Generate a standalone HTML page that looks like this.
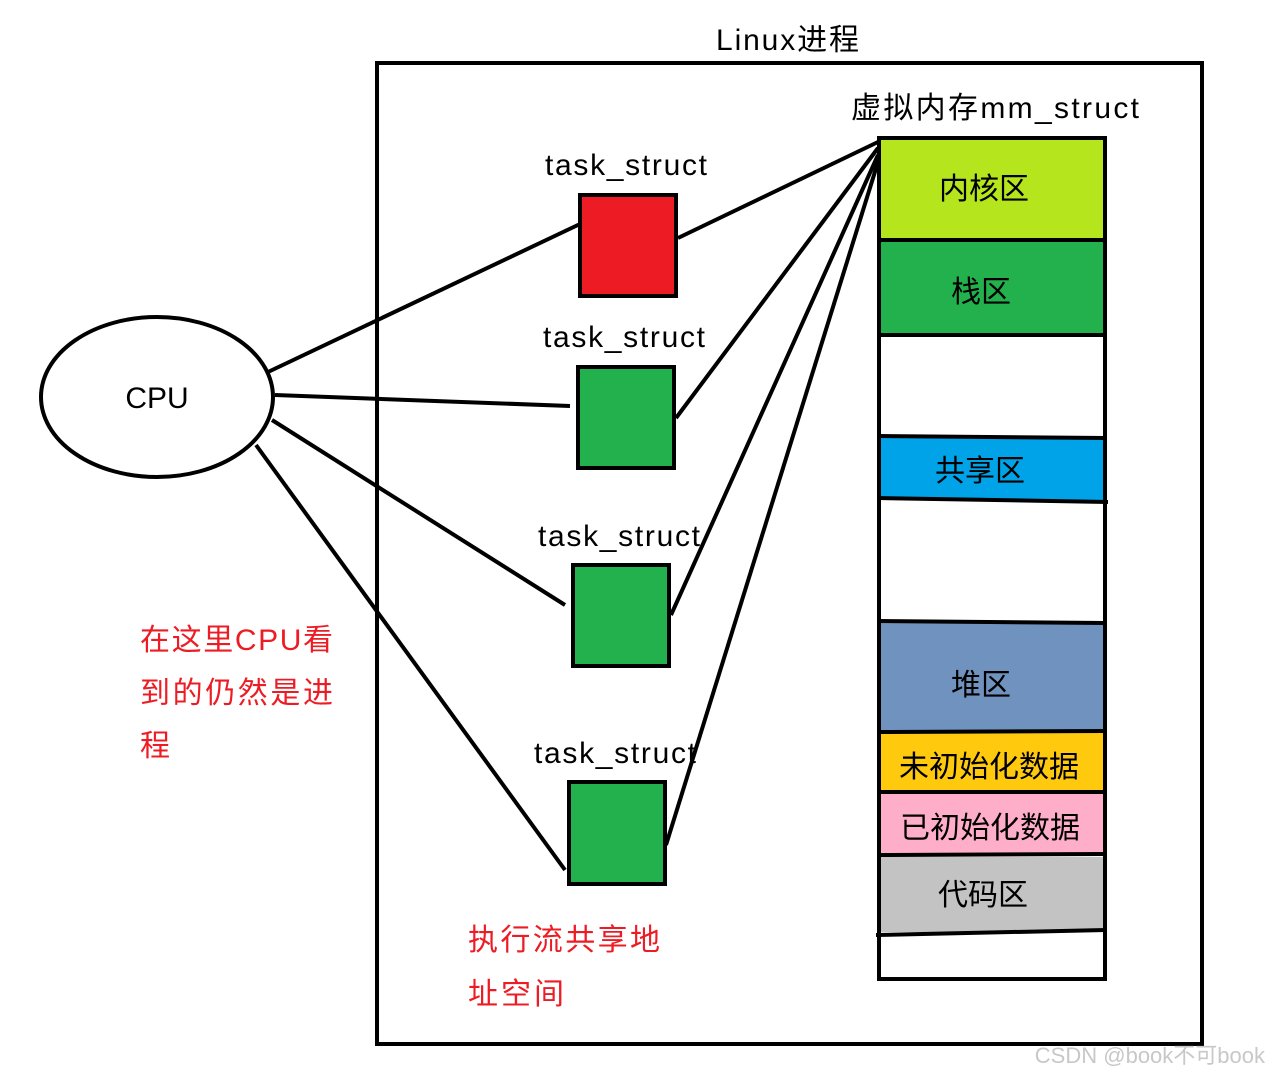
<!DOCTYPE html>
<html><head><meta charset="utf-8"><style>
body{margin:0;background:#fff}
svg text{font-family:"Liberation Sans","Noto Sans CJK SC",sans-serif}
</style></head><body>
<svg width="1269" height="1076" viewBox="0 0 1269 1076" xmlns="http://www.w3.org/2000/svg">
<rect x="0" y="0" width="1269" height="1076" fill="#fff"/>
<text x="716" y="50" font-size="30" textLength="143">Linux进程</text>
<rect x="377" y="63" width="825" height="981" fill="none" stroke="#000" stroke-width="4"/>
<text x="851" y="118" font-size="30" textLength="288">虚拟内存mm_struct</text>
<rect x="880" y="140" width="225" height="100" fill="#b5e51d"/>
<rect x="880" y="241" width="225" height="93" fill="#22b14c"/>
<rect x="880" y="438" width="225" height="62" fill="#00a2e8"/>
<rect x="880" y="623" width="225" height="108" fill="#7092be"/>
<rect x="880" y="733" width="225" height="58" fill="#ffc90e"/>
<rect x="880" y="793" width="225" height="62" fill="#ffaec9"/>
<rect x="880" y="857" width="225" height="75" fill="#c3c3c3"/>
<g stroke="#000" stroke-width="4">
<line x1="878" y1="240" x2="1106" y2="240"/>
<line x1="878" y1="335" x2="1106" y2="335"/>
<line x1="878" y1="436" x2="1106" y2="438"/>
<line x1="878" y1="498" x2="1108" y2="502"/>
<line x1="878" y1="621" x2="1106" y2="623"/>
<line x1="878" y1="732" x2="1106" y2="731"/>
<line x1="878" y1="792" x2="1106" y2="792"/>
<line x1="878" y1="855" x2="1106" y2="854"/>
<line x1="876" y1="935" x2="1106" y2="930"/>
</g>
<rect x="879" y="138" width="226" height="841" fill="none" stroke="#000" stroke-width="4"/>
<g font-size="30" text-anchor="middle">
<text x="984" y="199">内核区</text>
<text x="981" y="302">栈区</text>
<text x="980" y="481">共享区</text>
<text x="981" y="695">堆区</text>
<text x="989" y="777">未初始化数据</text>
<text x="990" y="838">已初始化数据</text>
<text x="983" y="905">代码区</text>
</g>
<g font-size="30">
<text x="545" y="175" textLength="162">task_struct</text>
<text x="543" y="347" textLength="162">task_struct</text>
<text x="538" y="546" textLength="162">task_struct</text>
<text x="534" y="763" textLength="162">task_struct</text>
</g>
<rect x="580" y="195" width="96" height="101" fill="#ed1c24" stroke="#000" stroke-width="4"/>
<rect x="578" y="367" width="96" height="101" fill="#22b14c" stroke="#000" stroke-width="4"/>
<rect x="573" y="565" width="96" height="101" fill="#22b14c" stroke="#000" stroke-width="4"/>
<rect x="569" y="782" width="96" height="102" fill="#22b14c" stroke="#000" stroke-width="4"/>
<g stroke="#000" stroke-width="4" fill="none">
<line x1="678" y1="238" x2="878" y2="142"/>
<line x1="676" y1="418" x2="878" y2="148"/>
<line x1="671" y1="615" x2="878" y2="155"/>
<line x1="666" y1="845" x2="878" y2="162"/>
<line x1="268" y1="372" x2="580" y2="224"/>
<line x1="275" y1="395" x2="570" y2="406"/>
<line x1="272" y1="420" x2="565" y2="605"/>
<line x1="256" y1="445" x2="565" y2="870"/>
</g>
<ellipse cx="157" cy="397" rx="116" ry="80" fill="#fff" stroke="#000" stroke-width="4"/>
<text x="157" y="408" font-size="30" text-anchor="middle">CPU</text>
<g font-size="30" fill="#ed1c24">
<text x="140" y="650" textLength="193">在这里CPU看</text>
<text x="140" y="703" textLength="193">到的仍然是进</text>
<text x="140" y="756">程</text>
<text x="468" y="950" textLength="192">执行流共享地</text>
<text x="468" y="1004" textLength="96">址空间</text>
</g>
<text x="1265" y="1063" font-size="22" fill="#c8c8c8" text-anchor="end">CSDN @book不可book</text>
</svg>
</body></html>
